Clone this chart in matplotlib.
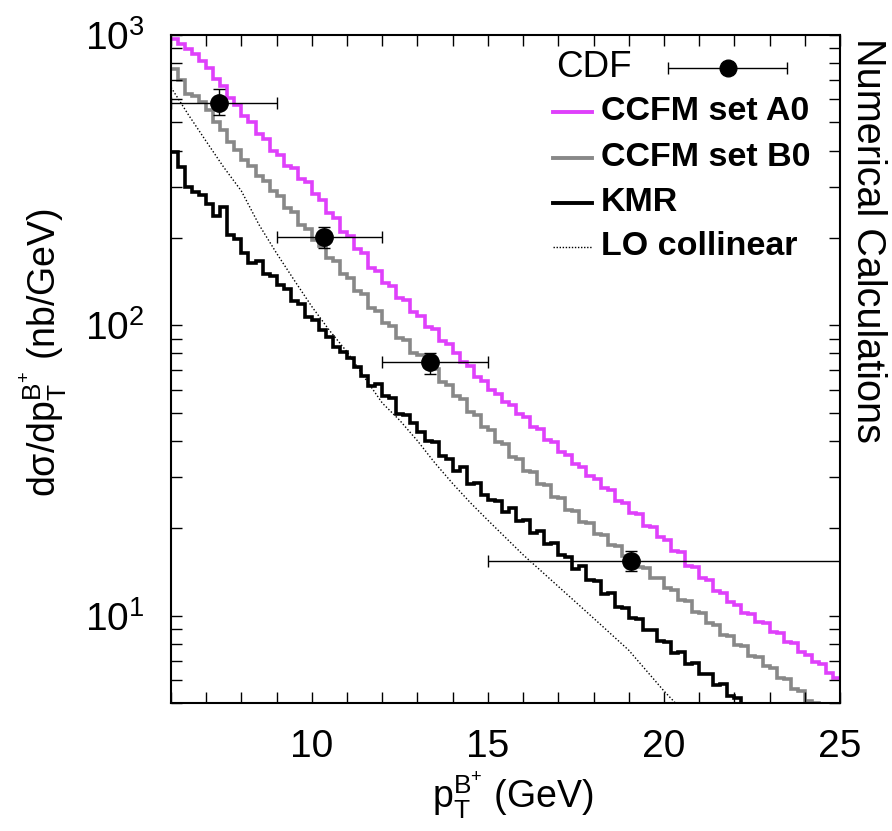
import numpy as np
import matplotlib
matplotlib.use("Agg")
import matplotlib.pyplot as plt
from matplotlib.ticker import MultipleLocator, FixedLocator, NullFormatter, LogLocator, LogFormatterMathtext

plt.rcParams['font.family'] = ['Liberation Sans', 'DejaVu Sans']
plt.rcParams['mathtext.fontset'] = 'custom'
plt.rcParams['mathtext.rm'] = 'Liberation Sans'
plt.rcParams['mathtext.it'] = 'Liberation Sans:italic'
plt.rcParams['mathtext.bf'] = 'Liberation Sans:bold'

# histogram binning (GeV)
pt_min = 6.0
pt_max = 25.0
bin_width = 0.2

# CCFM set A0, one value per 0.2 GeV bin from 6 to 25
ccfm_a0 = [965, 928, 896, 858, 812,
           768, 703, 668, 605, 575,
           526, 502, 455, 438, 398,
           386, 354, 347, 318, 312,
           284, 271, 244, 234, 209,
           203, 183, 177, 158, 154,
           140, 137, 124, 122, 111,
           108, 99, 97, 88, 86,
           80.5, 75.0, 72.5, 66.5, 64.5,
           60.0, 58.2, 54.4, 53.1, 49.6,
           48.2, 44.8, 43.9, 40.4, 39.5,
           36.6, 35.8, 33.2, 32.6, 30.3,
           29.6, 27.5, 27.0, 24.9, 24.5,
           22.6, 22.3, 20.4, 20.2, 18.6,
           18.2, 16.7, 16.5, 14.8, 14.7,
           13.5, 13.3, 12.2, 12.0, 11.1,
           10.9, 10.2, 10.1, 9.5, 9.4,
           8.8, 8.7, 8.1, 8.05, 7.5,
           7.3, 6.9, 6.8, 6.35, 6.1]

# CCFM set B0
ccfm_b0 = [765, 700, 628, 615, 588,
           552, 500, 472, 428, 402,
           370, 355, 326, 315, 290,
           279, 254, 245, 222, 215,
           196, 188, 171, 166, 150,
           145, 131, 128, 115, 112,
           102, 99.5, 90.5, 89, 80.5,
           79, 72, 70.5, 64, 62.5,
           57, 55.8, 50.4, 49.2, 44.6,
           43.5, 39.6, 38.9, 35.2, 34.6,
           31.6, 31.2, 28.4, 28.1, 25.7,
           25.4, 23.2, 23.0, 21.0, 20.9,
           19.1, 19.0, 17.5, 17.4, 16.1,
           15.9, 14.7, 14.6, 13.5, 13.5,
           12.4, 12.3, 11.3, 11.2, 10.3,
           10.2, 9.4, 9.3, 8.6, 8.5,
           7.9, 7.85, 7.25, 7.2, 6.7,
           6.6, 6.1, 6.05, 5.6, 5.5,
           5.1, 5.0, 4.65, 4.55, 4.25]

# KMR
kmr = [395, 350, 300, 288, 282,
       262, 238, 255, 205, 198,
       178, 164, 166, 150, 148,
       138, 133, 121, 118, 107,
       104, 96, 91, 84, 81,
       77, 72, 67, 62, 63,
       57, 56, 49.5, 49, 46,
       43, 40, 39.5, 35.5, 34.5,
       31.5, 32.5, 28.5, 28.6, 26,
       25, 24.8, 22.8, 23.4, 21.2,
       21.3, 19.3, 19.6, 17.6, 17.8,
       16.2, 15.9, 14.5, 14.8, 13.3,
       13.2, 11.9, 12.0, 10.7, 10.6,
       9.8, 9.7, 8.9, 8.95, 8.2,
       8.1, 7.45, 7.5, 6.8, 6.85,
       6.3, 6.3, 5.75, 5.8, 5.3,
       5.2, 4.9, 4.8, 4.5, 4.4,
       4.2, 4.0, 3.85, 3.7, 3.55,
       3.4, 3.25, 3.1, 3.0, 2.9]

# LO collinear
lo_pt = [6.0, 6.5, 7.0, 7.5, 8.0, 8.5, 9.0, 9.5, 10.0, 10.5, 11.0, 11.5, 12.0,
         12.5, 13.0, 13.5, 14.0, 14.5, 15.0, 16.0, 17.0, 18.0, 19.0, 20.0, 21.0]
lo_xs = [660, 530, 430, 350, 290, 222, 177, 143, 116, 96, 81, 66, 54,
         47, 40, 33.5, 28.5, 24.5, 21.3, 16.2, 12.6, 9.8, 7.6, 5.5, 4.1]

# CDF data
cdf_pt = [7.36, 10.35, 13.36, 19.07]
cdf_lo_edge = [6.0, 9.0, 12.0, 15.0]
cdf_hi_edge = [9.0, 12.0, 15.0, 25.0]
cdf_val = [583, 201, 74.6, 15.4]
cdf_val_lo = [530, 184, 67.9, 14.2]
cdf_val_hi = [652, 218, 80.5, 16.7]

magenta = '#df40fb'
grey = '#888888'

fig = plt.figure(figsize=(8.92, 8.31), dpi=100)
ax = fig.add_axes([171/892, 128/831, 669/892, 668/831])

edges = np.linspace(pt_min, pt_max, int(round((pt_max - pt_min) / bin_width)) + 1)
ax.stairs(ccfm_a0, edges, baseline=None, color=magenta, lw=2.6)
ax.stairs(ccfm_b0, edges, baseline=None, color=grey, lw=2.6)
ax.stairs(kmr, edges, baseline=None, color='black', lw=2.6)
ax.plot(lo_pt, lo_xs, color='black', lw=1.0, ls=(0, (1, 1.5)))

xerr = [np.subtract(cdf_pt, cdf_lo_edge), np.subtract(cdf_hi_edge, cdf_pt)]
yerr = [np.subtract(cdf_val, cdf_val_lo), np.subtract(cdf_val_hi, cdf_val)]
ax.errorbar(cdf_pt, cdf_val, xerr=xerr, yerr=yerr, fmt='o', color='black',
            ms=12.5, elinewidth=1.0, capsize=4, capthick=1.0, zorder=5, clip_on=True)

ax.set_yscale('log')
ax.set_xlim(pt_min, pt_max)
ax.set_ylim(5, 1000)

ax.xaxis.set_major_locator(FixedLocator([10, 15, 20, 25]))
ax.xaxis.set_minor_locator(MultipleLocator(1))
ax.yaxis.set_major_locator(LogLocator(base=10))
ax.yaxis.set_major_formatter(LogFormatterMathtext())
ax.yaxis.set_minor_locator(LogLocator(base=10, subs=np.arange(2, 10)))
ax.yaxis.set_minor_formatter(NullFormatter())

ax.tick_params(which='both', direction='in', top=True, right=True,
               length=8, width=1.0, labelsize=28, pad=19)
for s in ax.spines.values():
    s.set_linewidth(1.5)

ax.text(0.511, -0.157, r'p$_\mathrm{T}^\mathrm{B^{+}}$ (GeV)', transform=ax.transAxes,
        ha='center', va='baseline', fontsize=27)
ax.text(-0.19, 0.525, 'd\u03c3/dp$_\\mathrm{T}^\\mathrm{B^{+}}$ (nb/GeV)', transform=ax.transAxes,
        ha='center', va='center', rotation=90, fontsize=27)
ax.text(1.042, 0.9955, 'Numerical Calculations', transform=ax.transAxes,
        ha='center', va='top', rotation=-90, fontsize=28.5)

# legend
ax.text(0.689, 0.952, 'CDF', transform=ax.transAxes, ha='right', va='center', fontsize=26.5)
ax.errorbar([0.833], [0.951], xerr=[[0.09], [0.088]], fmt='o', color='black', ms=12,
            elinewidth=1.0, capsize=4, capthick=1.0, transform=ax.transAxes, clip_on=False)
rows = [('CCFM set A0', magenta, 2.8, '-', 0.885),
        ('CCFM set B0', grey, 2.8, '-', 0.816),
        ('KMR', 'black', 2.8, '-', 0.749),
        ('LO collinear', 'black', 1.0, (0, (1, 1.2)), 0.683)]
for label, c, lw, ls, yy in rows:
    ax.plot([0.571, 0.629], [yy, yy], color=c, lw=lw, ls=ls, transform=ax.transAxes, clip_on=False)
    ax.text(0.643, yy, label, transform=ax.transAxes, ha='left', va='center',
            fontsize=24.5, fontweight='bold')

fig.savefig('out.png', dpi=100)
